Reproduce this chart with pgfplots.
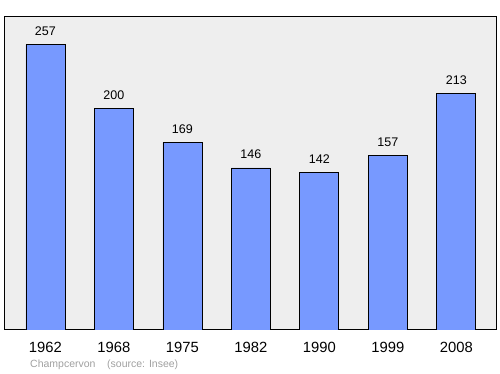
\documentclass[border=0pt]{standalone}
\usepackage{fontspec}
\setmainfont{Liberation Sans}
\usepackage{pgfplots}
\pgfplotsset{compat=1.18}
\definecolor{barblue}{HTML}{7799FF}
\definecolor{bggray}{HTML}{EEEEEE}
\definecolor{srcgray}{HTML}{A0A0A0}
\begin{document}
\begin{tikzpicture}
\path[use as bounding box] (0,0) rectangle (500pt,374pt);
\begin{axis}[at={(5pt,44pt)}, anchor=south west, scale only axis,
  width=491pt, height=313pt,
  xmin=-0.59, xmax=6.58, ymin=0, ymax=282,
  axis background/.style={fill=bggray},
  axis line style={black, line width=1pt},
  ytick=\empty, xtick={0,...,6},
  xticklabels={1962,1968,1975,1982,1990,1999,2008},
  major tick length=0pt,
  xticklabel style={font=\fontsize{14.8}{15}\selectfont, anchor=base, yshift=-23pt},
  /pgf/number format/assume math mode=true,
  ybar, bar width=39pt,
  nodes near coords,
  nodes near coords style={font=\fontsize{12.5}{12}\selectfont, anchor=base, yshift=9pt, inner sep=0pt, text=black},
]
\addplot[fill=barblue, draw=black, line width=0.7pt] coordinates {(0,257) (1,200) (2,169) (3,146) (4,142) (5,157) (6,213)};
\end{axis}
\node[anchor=base west, text=srcgray, font=\fontsize{10.5}{10}\selectfont, inner sep=0pt] at (30pt,6pt) {Champcervon};
\node[anchor=base west, text=srcgray, font=\fontsize{10.5}{10}\selectfont, inner sep=0pt] at (107pt,6pt) {(source: Insee)};
\end{tikzpicture}
\end{document}
